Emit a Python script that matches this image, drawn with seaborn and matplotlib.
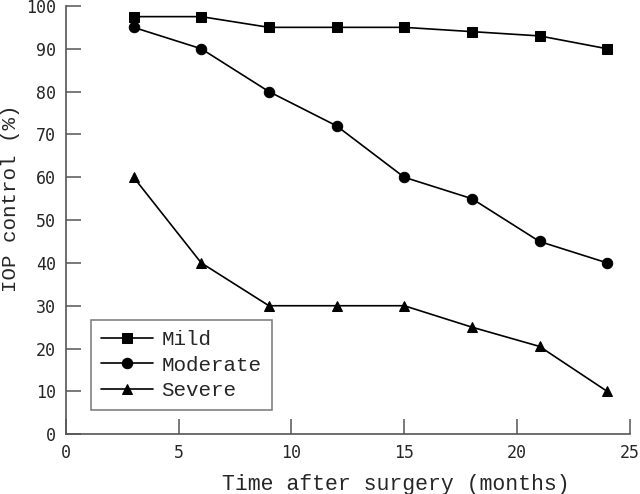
import matplotlib
matplotlib.use("Agg")
import matplotlib.pyplot as plt
import seaborn as sns
import pandas as pd

months = [3, 6, 9, 12, 15, 18, 21, 24]
mild = [97.5, 97.5, 95, 95, 95, 94, 93, 90]
moderate = [95, 90, 80, 72, 60, 55, 45, 40]
severe = [60, 40, 30, 30, 30, 25, 20.5, 10]
series = ["Mild", "Moderate", "Severe"]
markers = ["s", "o", "^"]

df = pd.concat([
    pd.DataFrame({"month": months, "value": v, "group": g})
    for v, g in zip([mild, moderate, severe], series)
])

sns.set_style("ticks")
plt.rcParams["font.family"] = ["DejaVu Sans Mono"]

fig = plt.figure(figsize=(6.4, 4.94), dpi=100)
ax = fig.add_axes([0.103, 0.121, 0.881, 0.867])

sns.lineplot(data=df, x="month", y="value", hue="group", style="group",
             hue_order=series, style_order=series,
             palette=["black"] * 3, markers=markers, dashes=False,
             markersize=7.5, linewidth=1.2, markeredgecolor="black", ax=ax)

ax.set_xlim(0, 25)
ax.set_ylim(0, 100)
ax.set_xticks(range(0, 26, 5))
ax.set_yticks(range(0, 101, 10))
ax.tick_params(direction="in", length=11, width=1.1, labelsize=12, pad=7, color="#555555")
for s in ["top", "right"]:
    ax.spines[s].set_visible(False)
for s in ["left", "bottom"]:
    ax.spines[s].set_color("#555555")
    ax.spines[s].set_linewidth(1.2)
ax.set_xlabel("Time after surgery (months)", family="Liberation Mono", fontsize=15.5, va="center")
ax.set_ylabel("IOP control (%)", family="Liberation Mono", fontsize=15, va="center")
ax.xaxis.set_label_coords(0.585, -0.118)
ax.yaxis.set_label_coords(-0.098, 0.55)

leg = ax.legend(loc="lower left", bbox_to_anchor=(0.044, 0.056), borderaxespad=0,
                frameon=True, fancybox=False, edgecolor="#555555",
                prop={"family": "Liberation Mono", "size": 15},
                handlelength=2.5, handletextpad=0.4, borderpad=0.5, labelspacing=0.3)
leg.get_frame().set_linewidth(1.1)

fig.savefig("out.png", dpi=100)
